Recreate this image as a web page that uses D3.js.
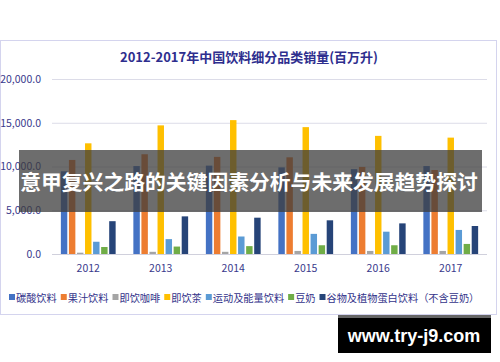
<!DOCTYPE html>
<html>
<head>
<meta charset="utf-8">
<script src="https://cdn.jsdelivr.net/npm/d3@7"></script>
<style>
  body { margin: 0; background: #fff; }
  svg { display: block; }
</style>
</head>
<body>
<svg id="chart" width="500" height="362"></svg>
<script>
// data (百万升)
const years = ['2012', '2013', '2014', '2015', '2016', '2017'];
const seriesNames = ['碳酸饮料', '果汁饮料', '即饮咖啡', '即饮茶', '运动及能量饮料', '豆奶', '谷物及植物蛋白饮料（不含豆奶）'];
const colors = ['#4472C4', '#ED7D31', '#A5A5A5', '#FFC000', '#5B9BD5', '#70AD47', '#264478'];
const carbonated = [9450, 10050, 10100, 9900, 9700, 10050];
const juice = [10750, 11400, 11100, 11050, 9950, 9600];
const coffee = [150, 250, 250, 350, 350, 350];
const tea = [12650, 14700, 15300, 14500, 13500, 13300];
const sports = [1400, 1700, 2000, 2300, 2550, 2750];
const soy = [800, 850, 900, 1000, 1000, 1150];
const grain = [3750, 4300, 4150, 3850, 3500, 3200];
const yTicks = [0, 5000, 10000, 15000, 20000];

const values = [carbonated, juice, coffee, tea, sports, soy, grain];

const svg = d3.select('#chart');
const cjk = '"Noto Sans CJK SC", sans-serif';

// outer frame
svg.append('rect')
  .attr('x', 0.5).attr('y', 40.5).attr('width', 496).attr('height', 274)
  .attr('fill', '#fff').attr('stroke', '#d4d4ee');

svg.append('text')
  .attr('x', 249).attr('y', 62)
  .attr('text-anchor', 'middle')
  .attr('font-family', cjk).attr('font-weight', 'bold').attr('font-size', 13)
  .attr('fill', '#2e2e8e')
  .text('2012-2017年中国饮料细分品类销量(百万升)');

const x0 = d3.scaleBand().domain(years).range([52, 487]).paddingInner(0.2).paddingOuter(0.1);
const x1 = d3.scaleBand().domain(d3.range(seriesNames.length)).range([0, x0.bandwidth()]).padding(0.2);
const y = d3.scaleLinear().domain([0, 20000]).range([254, 79]);

// grid
svg.append('g').selectAll('line').data(yTicks.slice(1)).join('line')
  .attr('x1', 52).attr('x2', 487)
  .attr('y1', d => y(d) + 0.5).attr('y2', d => y(d) + 0.5)
  .attr('stroke', '#dcdce8');

const yAxis = svg.append('g').attr('transform', 'translate(44,0)')
  .call(d3.axisLeft(y).tickValues(yTicks).tickFormat(d3.format(',.1f')).tickSize(0));
yAxis.select('.domain').remove();
yAxis.selectAll('text')
  .attr('font-family', cjk).attr('font-size', 10.5).attr('fill', '#3a3a8c');

// bars
const groups = svg.append('g').selectAll('g').data(years).join('g')
  .attr('transform', d => `translate(${x0(d)},0)`);
groups.selectAll('rect')
  .data((d, i) => values.map((s, k) => ({ k, v: s[i] })))
  .join('rect')
  .attr('x', d => x1(d.k))
  .attr('width', x1.bandwidth())
  .attr('y', d => y(d.v))
  .attr('height', d => y(0) - y(d.v))
  .attr('fill', d => colors[d.k]);

// baseline
svg.append('line').attr('x1', 52).attr('x2', 487).attr('y1', 254.5).attr('y2', 254.5).attr('stroke', '#d0d0dc');

const xAxis = svg.append('g').attr('transform', 'translate(0,262)')
  .call(d3.axisBottom(x0).tickSize(0));
xAxis.select('.domain').remove();
xAxis.selectAll('text')
  .attr('font-family', cjk).attr('font-size', 10.5).attr('fill', '#3a3a8c');

// legend
const legend = svg.append('g').attr('transform', 'translate(9,298)');
let lx = 0;
seriesNames.forEach((name, k) => {
  const g = legend.append('g').attr('transform', `translate(${lx},0)`);
  g.append('rect').attr('x', 0).attr('y', -4).attr('width', 6).attr('height', 6).attr('fill', colors[k]);
  const t = g.append('text').attr('x', 7).attr('y', 0).attr('dy', '0.35em')
    .attr('font-family', cjk).attr('font-size', 10.2).attr('fill', '#33338a')
    .text(name);
  lx += 7 + t.node().getComputedTextLength() + 4;
});

// banner overlay
svg.append('rect').attr('x', 19).attr('y', 150).attr('width', 463).attr('height', 62)
  .attr('fill', '#3c3c3c').attr('opacity', 0.75);
svg.append('text')
  .attr('x', 249).attr('y', 190)
  .attr('text-anchor', 'middle')
  .attr('font-family', cjk).attr('font-weight', 'bold').attr('font-size', 20.8)
  .attr('fill', '#fff')
  .text('意甲复兴之路的关键因素分析与未来发展趋势探讨');

// watermark
svg.append('rect').attr('x', 338).attr('y', 315).attr('width', 153).attr('height', 38).attr('fill', '#000');
svg.append('rect').attr('x', 338).attr('y', 315).attr('width', 153).attr('height', 3).attr('fill', '#666');
svg.append('text')
  .attr('x', 414).attr('y', 342)
  .attr('text-anchor', 'middle')
  .attr('font-family', '"Liberation Sans", Arial, sans-serif').attr('font-weight', 'bold').attr('font-size', 18)
  .attr('fill', '#fff')
  .text('www.try-j9.com');
</script>
</body>
</html>
